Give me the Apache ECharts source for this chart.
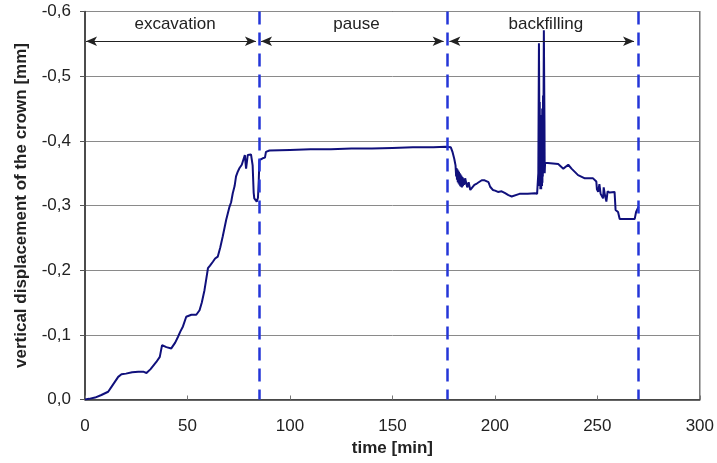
<!DOCTYPE html>
<html>
<head>
<meta charset="utf-8">
<style>
html,body{margin:0;padding:0;background:#fff;}
#chart{width:717px;height:463px;}
</style>
<script src="https://cdn.jsdelivr.net/npm/echarts@6/dist/echarts.min.js"></script>
</head>
<body>
<div id="chart"></div>
<script>
// time [min]
var time = [0,2,4.9,8,11.3,13,16.2,17.8,20,23,26,28.4,30,32,34.8,36.5,37.6,38.5,39.7,42.1,44,45.4,46.5,47.8,49.4,51.9,54.3,55.9,57,58.3,59.2,60,61,62.4,63.5,64.8,66,67.2,68.9,70.5,71.3,72.1,73,73.7,74.5,75.4,76.5,77.3,78,78.6,79.4,81,81.8,82.3,82.6,83.8,84.4,84.8,85.1,86.7,87.8,88.3,90,100,110,120,130,140,150,160,170,176,178.5,179.3,180.2,180.8,181.1,181.3,181.5,181.7,181.9,182.1,182.3,182.5,182.7,182.9,183.1,183.3,183.5,183.7,183.9,184.2,184.4,184.7,185,185.5,186,186.5,187.2,188,188.8,190,191.2,192,193.6,195,196.9,197.7,199,200.1,201.5,203.3,205,206.6,208.2,212,216,219.6,220.3,220.6,221.2,221.5,221.7,221.8,221.9,222.0,222.1,222.2,222.3,222.4,222.5,222.6,222.7,222.8,222.9,223.0,223.1,223.2,223.3,223.4,223.5,223.6,223.9,224.2,224.3,224.5,225,230.9,231.7,233.4,235.8,237.4,239,240.6,243.9,247.9,249.5,249.8,250.4,251,251.6,252.3,252.8,253.1,253.6,254.4,255,256,258.4,258.9,260.1,260.9,268.2,268.9,270.1];
// vertical displacement of the crown [mm]
var displacement = [0,-0.001,-0.003,-0.007,-0.012,-0.02,-0.035,-0.039,-0.040,-0.042,-0.043,-0.043,-0.041,-0.047,-0.058,-0.066,-0.084,-0.083,-0.081,-0.079,-0.088,-0.097,-0.105,-0.113,-0.128,-0.131,-0.131,-0.138,-0.150,-0.169,-0.187,-0.203,-0.207,-0.213,-0.218,-0.221,-0.235,-0.252,-0.278,-0.298,-0.305,-0.319,-0.330,-0.345,-0.352,-0.358,-0.363,-0.366,-0.378,-0.357,-0.378,-0.379,-0.362,-0.320,-0.311,-0.306,-0.312,-0.340,-0.370,-0.373,-0.374,-0.383,-0.385,-0.386,-0.387,-0.387,-0.388,-0.388,-0.389,-0.390,-0.390,-0.391,-0.390,-0.383,-0.372,-0.362,-0.345,-0.358,-0.340,-0.356,-0.336,-0.354,-0.334,-0.352,-0.332,-0.350,-0.330,-0.348,-0.329,-0.346,-0.328,-0.344,-0.330,-0.342,-0.332,-0.342,-0.340,-0.328,-0.336,-0.324,-0.321,-0.332,-0.334,-0.333,-0.339,-0.339,-0.336,-0.329,-0.324,-0.323,-0.321,-0.322,-0.319,-0.316,-0.314,-0.318,-0.318,-0.319,-0.319,-0.318,-0.350,-0.551,-0.440,-0.330,-0.460,-0.340,-0.420,-0.325,-0.440,-0.335,-0.410,-0.325,-0.430,-0.340,-0.400,-0.330,-0.450,-0.335,-0.420,-0.345,-0.470,-0.350,-0.571,-0.430,-0.350,-0.366,-0.364,-0.364,-0.361,-0.357,-0.363,-0.357,-0.352,-0.347,-0.342,-0.342,-0.337,-0.325,-0.321,-0.333,-0.318,-0.316,-0.311,-0.328,-0.318,-0.306,-0.322,-0.320,-0.321,-0.293,-0.290,-0.279,-0.279,-0.290,-0.298];
// phases
var phaseNames = ['excavation','pause','backfilling'];
var phaseStart = [0.5, 85.9, 177.8];
var phaseEnd = [83.4, 175.0, 267.9];
var boundaries = [85, 177, 270];
var arrowLevel = -0.554;
var labelLevel = -0.580;

var seriesData = time.map(function(t,i){return [t, displacement[i]];});

var FONT = '"Liberation Sans", Arial, sans-serif';
var markLineData = [];
boundaries.forEach(function(b){
  markLineData.push([
    {coord:[b,-0.6], symbol:'none', lineStyle:{color:'#2436d8', width:2.5, type:[13,8]}},
    {coord:[b,0], symbol:'none'}
  ]);
});
phaseNames.forEach(function(n,i){
  markLineData.push([
    {coord:[phaseStart[i],arrowLevel], symbol:'arrow', lineStyle:{color:'#222', width:1, type:'solid'}},
    {coord:[phaseEnd[i],arrowLevel], symbol:'arrow'}
  ]);
});
var markPointData = phaseNames.map(function(n,i){
  return {coord:[(phaseStart[i]+phaseEnd[i])/2 + 2, labelLevel], value:n};
});

var chart = echarts.init(document.getElementById('chart'), null, {renderer:'canvas'});
chart.setOption({
  animation:false,
  backgroundColor:'#fff',
  grid:{left:85, right:16, top:11.5, bottom:63.5, show:true, borderColor:'#555', borderWidth:1.2, containLabel:false},
  xAxis:{
    type:'value', min:0, max:300, interval:50,
    name:'time [min]', nameLocation:'middle', nameGap:37,
    nameTextStyle:{fontFamily:FONT, fontSize:17, fontWeight:'bold', color:'#222'},
    axisLine:{show:true, onZero:false, lineStyle:{color:'#333', width:1.5}},
    axisTick:{show:true, inside:true, length:4, lineStyle:{color:'#777'}},
    axisLabel:{fontFamily:FONT, fontSize:17, color:'#222', margin:18},
    splitLine:{show:false}
  },
  yAxis:{
    type:'value', min:-0.6, max:0, interval:0.1, inverse:true,
    name:'vertical displacement of the crown [mm]', nameLocation:'middle', nameGap:55,
    nameTextStyle:{fontFamily:FONT, fontSize:17, fontWeight:'bold', color:'#222'},
    axisLine:{show:true, onZero:false, lineStyle:{color:'#333', width:1.5}},
    axisTick:{show:true, inside:false, length:5, lineStyle:{color:'#555'}},
    axisLabel:{fontFamily:FONT, fontSize:17, color:'#222', margin:14,
      formatter:function(v){return v.toFixed(1).replace('.',',');}},
    splitLine:{show:true, lineStyle:{color:'#8a8a8a', width:1}}
  },
  series:[{
    type:'line', data:seriesData, showSymbol:false, symbol:'none', sampling:null,
    lineStyle:{color:'#10107c', width:2},
    z:3,
    markLine:{silent:true, animation:false, symbolSize:[7,11], label:{show:false},
      data:markLineData},
    markPoint:{silent:true, animation:false, symbol:'circle', symbolSize:0,
      label:{show:true, position:'inside', fontFamily:FONT, fontSize:17, color:'#222',
        formatter:function(p){return p.value;}},
      data:markPointData}
  }]
});
</script>
</body>
</html>
